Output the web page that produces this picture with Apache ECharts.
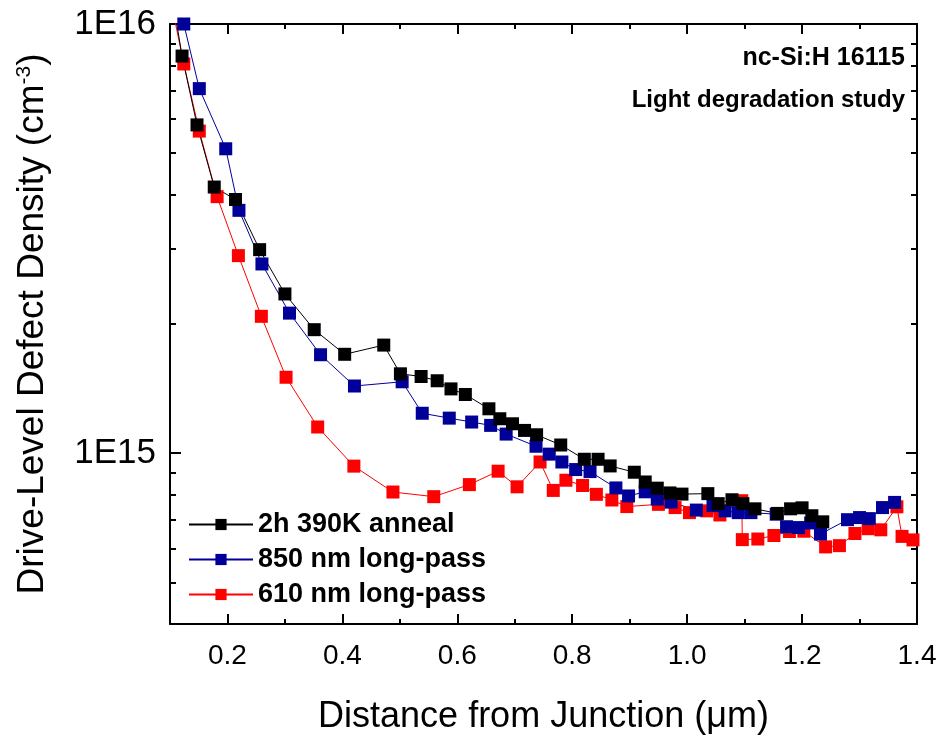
<!DOCTYPE html>
<html>
<head>
<meta charset="utf-8">
<script src="https://cdn.jsdelivr.net/npm/echarts@6/dist/echarts.min.js"></script>
<style>
  html, body { margin: 0; padding: 0; background: #fff; }
  #chart { width: 948px; height: 740px; }
</style>
</head>
<body>
<div id="chart"></div>
<script>
// distance from junction (um) and defect density (cm^-3)
const annealX = [0.095, 0.121, 0.147, 0.177, 0.214, 0.256, 0.300, 0.351, 0.404, 0.472, 0.501,
  0.537, 0.565, 0.589, 0.614, 0.655, 0.674, 0.696, 0.717, 0.738, 0.780, 0.821, 0.845, 0.866,
  0.908, 0.927, 0.948, 0.970, 0.991, 1.036, 1.054, 1.078, 1.097, 1.118, 1.157, 1.180, 1.200,
  1.217, 1.236]
const annealY = [1.37e16, 8.42e15, 5.82e15, 4.17e15, 3.90e15, 2.98e15, 2.35e15, 1.94e15, 1.70e15,
  1.786e15, 1.531e15, 1.509e15, 1.475e15, 1.412e15, 1.370e15, 1.269e15, 1.203e15, 1.171e15,
  1.130e15, 1.104e15, 1.045e15, 9.68e14, 9.68e14, 9.34e14, 9.03e14, 8.57e14, 8.29e14, 8.08e14,
  8.03e14, 8.05e14, 7.63e14, 7.79e14, 7.63e14, 7.42e14, 7.24e14, 7.42e14, 7.46e14, 7.15e14, 6.92e14]

const lp850X = [0.124, 0.151, 0.197, 0.220, 0.260, 0.308, 0.362, 0.421, 0.504, 0.539, 0.586,
  0.625, 0.658, 0.685, 0.737, 0.760, 0.782, 0.806, 0.831, 0.876, 0.898, 0.927, 0.948, 0.972,
  1.016, 1.045, 1.066, 1.089, 1.111, 1.155, 1.173, 1.194, 1.215, 1.232, 1.279, 1.300, 1.317,
  1.340, 1.361]
const lp850Y = [1.0e16, 7.07e15, 5.12e15, 3.68e15, 2.76e15, 2.12e15, 1.696e15, 1.434e15, 1.467e15,
  1.239e15, 1.207e15, 1.182e15, 1.161e15, 1.108e15, 1.038e15, 9.95e14, 9.54e14, 9.16e14, 9.06e14,
  8.30e14, 7.95e14, 8.13e14, 7.82e14, 7.69e14, 7.37e14, 7.55e14, 7.34e14, 7.27e14, 7.27e14,
  7.21e14, 6.74e14, 6.71e14, 6.88e14, 6.48e14, 7.00e14, 7.08e14, 7.04e14, 7.47e14, 7.68e14]

const lp610X = [0.096, 0.124, 0.151, 0.182, 0.219, 0.259, 0.302, 0.357, 0.420, 0.488, 0.559,
  0.621, 0.671, 0.704, 0.744, 0.767, 0.789, 0.818, 0.842, 0.869, 0.895, 0.950, 0.979, 1.004,
  1.034, 1.057, 1.095, 1.096, 1.123, 1.151, 1.178, 1.203, 1.241, 1.265, 1.292, 1.315, 1.337,
  1.365, 1.374, 1.393]
const lp610Y = [1.23e16, 8.07e15, 5.63e15, 3.96e15, 2.886e15, 2.084e15, 1.503e15, 1.151e15, 9.33e14,
  8.12e14, 7.92e14, 8.45e14, 9.08e14, 8.35e14, 9.54e14, 8.19e14, 8.65e14, 8.41e14, 8.02e14,
  7.78e14, 7.51e14, 7.60e14, 7.47e14, 7.27e14, 7.34e14, 7.18e14, 7.75e14, 6.29e14, 6.31e14,
  6.43e14, 6.57e14, 6.58e14, 6.05e14, 6.09e14, 6.50e14, 6.67e14, 6.63e14, 7.50e14, 6.40e14, 6.28e14]

const seriesNames = ['2h 390K anneal', '850 nm long-pass', '610 nm long-pass']
const xMajor = [0.2, 0.4, 0.6, 0.8, 1.0, 1.2, 1.4]
const xMinor = [0.1, 0.3, 0.5, 0.7, 0.9, 1.1, 1.3]
const yMajor = [1e15, 1e16]
const yMinor = [5e14, 6e14, 7e14, 8e14, 9e14, 2e15, 3e15, 4e15, 5e15, 6e15, 7e15, 8e15, 9e15]

const FONT = 'Liberation Sans, Arial, sans-serif'
const zip = (xs, ys) => xs.map((x, i) => [x, ys[i]])

const chart = echarts.init(document.getElementById('chart'))

const xBase = { type: 'value', min: 0.1, max: 1.4, splitLine: { show: false } }
const yBase = { type: 'log', logBase: 10, min: 4e14, max: 1e16, splitLine: { show: false } }
const lineStyle = { color: '#000', width: 2 }
const tickStyle = { color: '#000', width: 2 }

const xAxes = [
  {
    ...xBase, position: 'bottom',
    axisLine: { lineStyle },
    axisTick: { inside: true, length: 10, customValues: xMajor, lineStyle: tickStyle },
    axisLabel: {
      customValues: xMajor, margin: 18, color: '#000', fontSize: 28, fontFamily: FONT,
      formatter: v => v.toFixed(1)
    },
    name: 'Distance from Junction (\u03bcm)', nameLocation: 'middle', nameGap: 75,
    nameTextStyle: { color: '#000', fontSize: 36, fontFamily: FONT }
  },
  {
    ...xBase, position: 'bottom',
    axisLine: { show: false },
    axisTick: { inside: true, length: 5, customValues: xMinor, lineStyle: tickStyle },
    axisLabel: { show: false }
  },
  {
    ...xBase, position: 'top',
    axisLine: { lineStyle },
    axisTick: { inside: true, length: 10, customValues: xMajor, lineStyle: tickStyle },
    axisLabel: { show: false }
  },
  {
    ...xBase, position: 'top',
    axisLine: { show: false },
    axisTick: { inside: true, length: 5, customValues: xMinor, lineStyle: tickStyle },
    axisLabel: { show: false }
  }
]

const yAxes = [
  {
    ...yBase, position: 'left',
    axisLine: { lineStyle },
    axisTick: { inside: true, length: 11, customValues: yMajor, lineStyle: tickStyle },
    axisLabel: {
      customValues: yMajor, margin: 14, color: '#000', fontSize: 35, fontFamily: FONT,
      formatter: v => '1E' + Math.round(Math.log10(v))
    },
    name: 'Drive-Level Defect Density (cm{sup|-3})', nameLocation: 'middle', nameGap: 119,
    nameTextStyle: {
      color: '#000', fontSize: 37, fontFamily: FONT,
      rich: { sup: { fontSize: 21, fontFamily: FONT, color: '#000', verticalAlign: 'top', padding: [0, 0, 12, 0] } }
    }
  },
  {
    ...yBase, position: 'left',
    axisLine: { show: false },
    axisTick: { inside: true, length: 6, customValues: yMinor, lineStyle: tickStyle },
    axisLabel: { show: false }
  },
  {
    ...yBase, position: 'right',
    axisLine: { lineStyle },
    axisTick: { inside: true, length: 11, customValues: yMajor, lineStyle: tickStyle },
    axisLabel: { show: false }
  },
  {
    ...yBase, position: 'right',
    axisLine: { show: false },
    axisTick: { inside: true, length: 6, customValues: yMinor, lineStyle: tickStyle },
    axisLabel: { show: false }
  }
]

const makeSeries = (name, color, data) => ({
  name, type: 'line', data,
  xAxisIndex: 0, yAxisIndex: 0,
  symbol: 'rect', symbolSize: 13,
  itemStyle: { color },
  lineStyle: { color, width: 1 },
  clip: true, animation: false
})

const option = {
  animation: false,
  grid: { left: 170, right: 31, top: 24, bottom: 114 },
  xAxis: xAxes,
  yAxis: yAxes,
  legend: {
    data: seriesNames,
    orient: 'vertical', left: 183, top: 506,
    itemWidth: 64, itemHeight: 14, itemGap: 8,
    textStyle: { color: '#000', fontSize: 27, fontWeight: 'bold', fontFamily: FONT }
  },
  graphic: [
    { type: 'text', right: 43, top: 46, style: { text: 'nc-Si:H 16115', fill: '#000', font: 'bold 25px ' + FONT } },
    { type: 'text', right: 43, top: 88, style: { text: 'Light degradation study', fill: '#000', font: 'bold 24px ' + FONT } }
  ],
  series: [
    makeSeries(seriesNames[2], '#ff0000', zip(lp610X, lp610Y)),
    makeSeries(seriesNames[1], '#000099', zip(lp850X, lp850Y)),
    makeSeries(seriesNames[0], '#000000', zip(annealX, annealY))
  ]
}

chart.setOption(option)
</script>
</body>
</html>
